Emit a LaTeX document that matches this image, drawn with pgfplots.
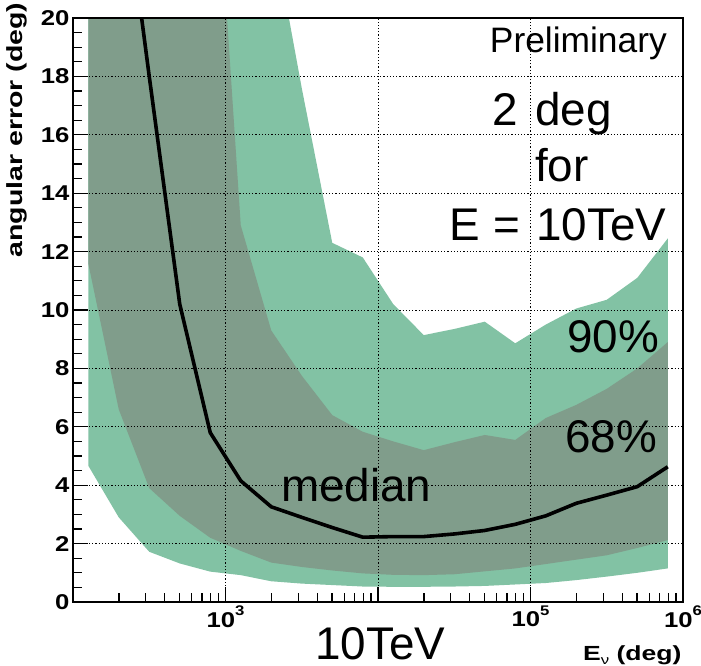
\documentclass[border=0pt]{standalone}
\usepackage{fontspec}
\setmainfont{Liberation Sans}
\newfontfamily\rootfont{Liberation Sans}[FakeStretch=1.2]
\newfontfamily\labelfont{Liberation Sans}[FakeStretch=1.3]
\usepackage{pgfplots}
\pgfplotsset{compat=1.18}
\definecolor{band90}{RGB}{130,194,164}
\definecolor{band68}{RGB}{128,157,139}
\newcommand{\supt}[1]{\raisebox{0.55em}{\fontsize{14}{14}\selectfont #1}}
\begin{document}
\begin{tikzpicture}
\path[use as bounding box] (-73bp,-64bp) rectangle (628bp,602bp);
\begin{axis}[
  at={(0,0)}, anchor=south west,
  scale only axis, width=610bp, height=584bp,
  xmode=log, log basis x=10,
  xmin=100, xmax=1000000, ymin=0, ymax=20,
  axis on top,
  axis line style={line width=1.5bp},
  xtick={1000,10000,100000,1000000},
  xticklabels={10\supt{3},,10\supt{5},10\supt{6}},
  minor xtick={200,300,400,500,600,700,800,900,2000,3000,4000,5000,6000,7000,8000,9000,20000,30000,40000,50000,60000,70000,80000,90000,200000,300000,400000,500000,600000,700000,800000,900000},
  ytick={0,2,...,20},
  yticklabels={0,2,4,6,8,10,12,14,16,18,20},
  minor y tick num=3,
  tick align=inside, tick pos=left,
  major tick length=15bp, minor tick length=9bp,
  every tick/.style={black, line width=1.3bp},
  grid=major,
  major grid style={black, line width=0.9bp, dash pattern=on 1.2bp off 2bp},
  ticklabel style={font=\rootfont\bfseries\fontsize{21.5}{21.5}\selectfont},
]
% 90% band
\addplot[fill=band90, draw=none] coordinates {
(125.9,30) (199.5,30) (316.2,30) (501.2,30) (794.3,30) (1258.9,30) (1995.3,23.3) (3162.3,17.6) (5011.9,12.3) (7943.3,11.8)
(12589,10.2) (19953,9.14) (31623,9.35) (50119,9.6) (79433,8.86) (125893,9.5) (199526,10.05) (316228,10.35) (501187,11.1) (794328,12.45)
(794328,1.15) (501187,1.0) (316228,0.87) (199526,0.75) (125893,0.65) (79433,0.6) (50119,0.55) (31623,0.53) (19953,0.52) (12589,0.52)
(7943.3,0.53) (5011.9,0.58) (3162.3,0.63) (1995.3,0.71) (1258.9,0.92) (794.3,1.04) (501.2,1.32) (316.2,1.72) (199.5,2.9) (125.9,4.67)
} -- cycle;
% 68% band
\addplot[fill=band68, draw=none] coordinates {
(125.9,30) (199.5,30) (316.2,30) (501.2,30) (794.3,28.7) (1258.9,12.9) (1995.3,9.3) (3162.3,7.75) (5011.9,6.4) (7943.3,5.83)
(12589,5.5) (19953,5.2) (31623,5.47) (50119,5.72) (79433,5.55) (125893,6.3) (199526,6.75) (316228,7.3) (501187,8.0) (794328,8.9)
(794328,2.12) (501187,1.85) (316228,1.6) (199526,1.45) (125893,1.3) (79433,1.15) (50119,1.05) (31623,0.95) (19953,0.92) (12589,0.93)
(7943.3,0.98) (5011.9,1.08) (3162.3,1.2) (1995.3,1.35) (1258.9,1.75) (794.3,2.2) (501.2,2.95) (316.2,3.9) (199.5,6.6) (125.9,11.6)
} -- cycle;
% median
\addplot[black, line width=3.6bp, line join=round] coordinates {
(199.5,26) (316.2,18.0) (501.2,10.2) (794.3,5.8) (1258.9,4.15) (1995.3,3.26) (3162.3,2.9) (5011.9,2.55) (7943.3,2.22)
(12589,2.24) (19953,2.24) (31623,2.33) (50119,2.45) (79433,2.66) (125893,2.95) (199526,3.38) (316228,3.66) (501187,3.95) (794328,4.63)
};
\end{axis}
\node[rotate=90, font=\labelfont\bfseries\fontsize{22}{22}\selectfont] at (-56bp,472bp) {angular error (deg)};
\node[anchor=base east, font=\labelfont\bfseries\fontsize{20.5}{20.5}\selectfont] at (612bp,-58bp) {E\raisebox{-0.2em}{\fontsize{13}{13}\selectfont\mdseries ν} (deg)};
\node[anchor=base east, font=\fontsize{35.5}{35.5}\selectfont, inner sep=0pt] at (594bp,549bp) {Preliminary};
\node[anchor=base east, font=\fontsize{46}{46}\selectfont, inner sep=0pt] at (445bp,476bp) {2};
\node[anchor=base west, font=\fontsize{46}{46}\selectfont, inner sep=0pt] at (462bp,476bp) {deg};
\node[anchor=base west, font=\fontsize{46}{46}\selectfont, inner sep=0pt] at (462bp,420bp) {for};
\node[anchor=base east, font=\fontsize{46}{46}\selectfont, inner sep=0pt] at (447bp,361bp) {E =};
\node[anchor=base west, font=\fontsize{46}{46}\selectfont, inner sep=0pt] at (463bp,361bp) {10TeV};
\node[anchor=base east, font=\fontsize{46}{46}\selectfont, inner sep=0pt] at (586bp,249bp) {90\%};
\node[anchor=base east, font=\fontsize{46}{46}\selectfont, inner sep=0pt] at (584bp,149bp) {68\%};
\node[anchor=base west, font=\fontsize{46}{46}\selectfont, inner sep=0pt] at (208bp,100bp) {median};
\node[anchor=base west, font=\fontsize{46}{46}\selectfont, inner sep=0pt] at (242bp,-57bp) {10TeV};
\end{tikzpicture}
\end{document}
